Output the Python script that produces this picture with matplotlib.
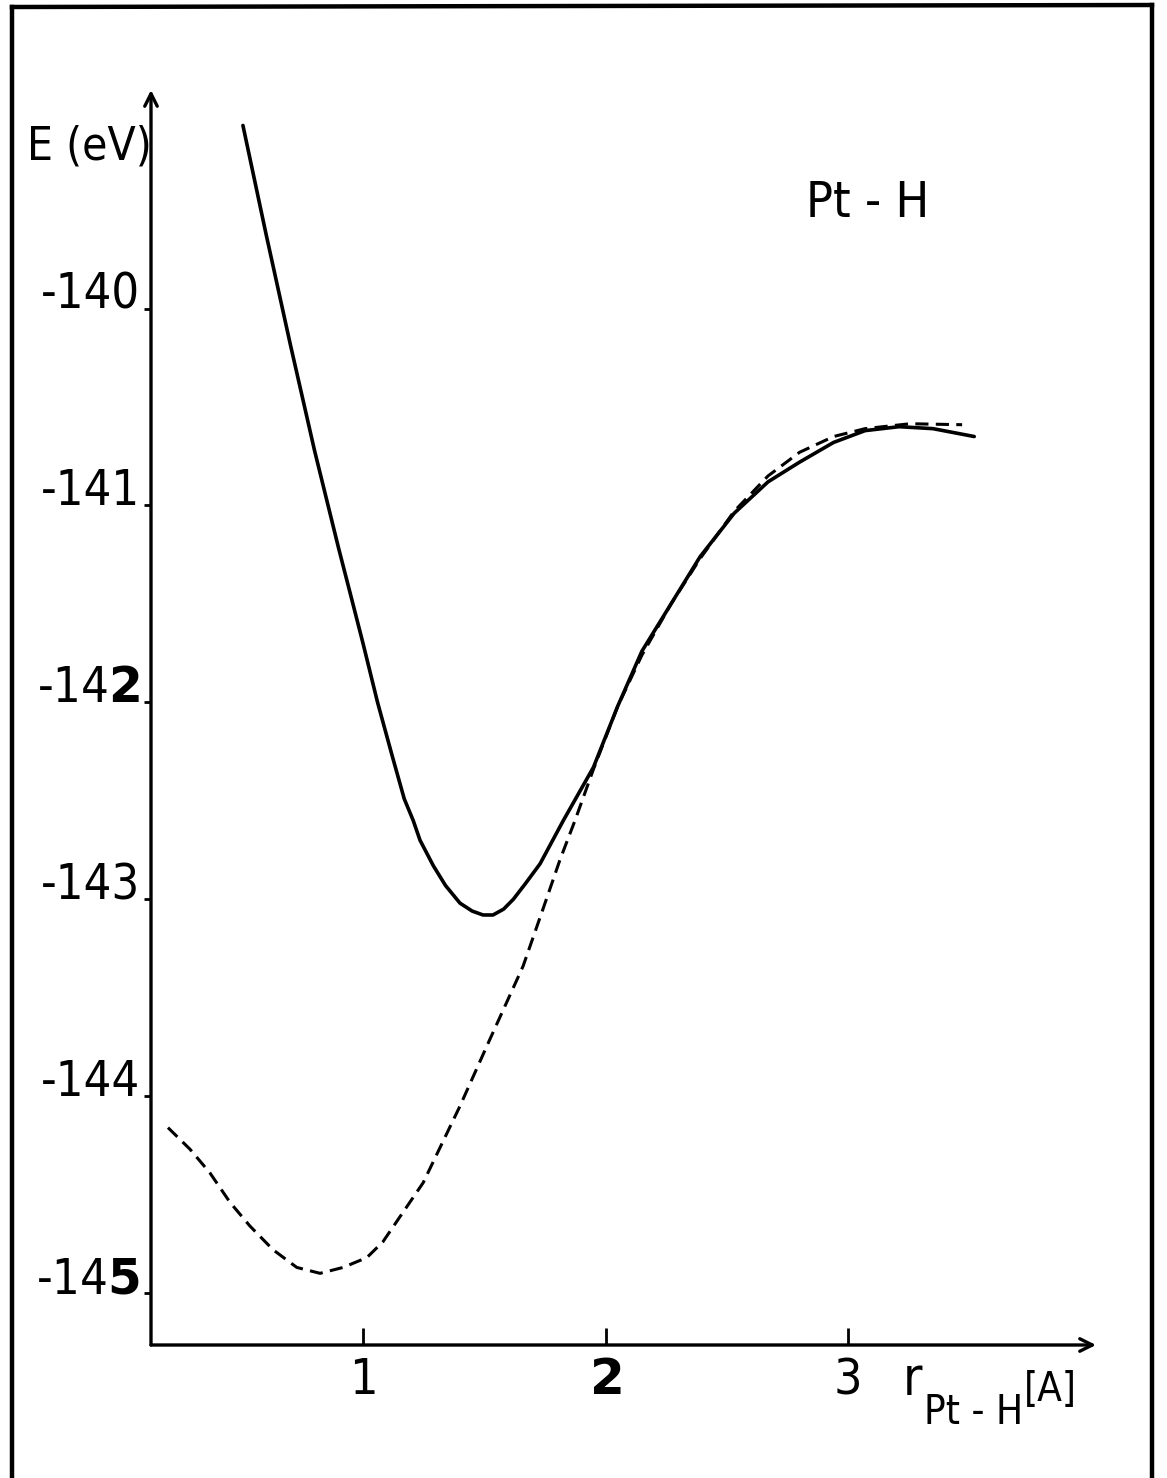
import matplotlib
matplotlib.use("Agg")
import matplotlib.pyplot as plt
from matplotlib import font_manager as fm
from matplotlib.lines import Line2D

# solid curve
solid_r = [0.505, 0.60, 0.70, 0.80, 0.90, 0.946, 1.0, 1.06, 1.12, 1.17, 1.207,
           1.235, 1.29, 1.34, 1.40, 1.45, 1.495, 1.536, 1.58, 1.62, 1.67, 1.73,
           1.826, 1.95, 2.05, 2.15, 2.27, 2.39, 2.53, 2.67, 2.80, 2.94, 3.07,
           3.21, 3.35, 3.52]
solid_E = [-139.07, -139.62, -140.18, -140.72, -141.22, -141.44, -141.70,
           -142.0, -142.27, -142.49, -142.60, -142.70, -142.83, -142.93,
           -143.02, -143.06, -143.08, -143.08, -143.05, -143.00, -142.92,
           -142.82, -142.60, -142.33, -142.02, -141.74, -141.50, -141.26,
           -141.04, -140.88, -140.78, -140.68, -140.62, -140.60, -140.61,
           -140.65]

# dashed curve
dashed_r = [0.196, 0.287, 0.369, 0.452, 0.534, 0.629, 0.727, 0.823, 0.918,
            1.016, 1.082, 1.165, 1.248, 1.40, 1.52, 1.66, 1.742, 1.812, 1.874,
            1.95, 2.05, 2.15, 2.27, 2.39, 2.53, 2.67, 2.80, 2.94, 3.07, 3.255,
            3.47]
dashed_E = [-144.16, -144.27, -144.39, -144.54, -144.66, -144.78, -144.87,
            -144.90, -144.87, -144.82, -144.74, -144.59, -144.44, -144.05,
            -143.72, -143.34, -143.05, -142.80, -142.60, -142.34, -142.02,
            -141.76, -141.50, -141.27, -141.03, -140.85, -140.73, -140.65,
            -140.61, -140.585, -140.59]

x_ticks = [1, 2, 3]
x_labels = ["1", r"$\mathbf{2}$", "3"]
y_ticks = [-140, -141, -142, -143, -144, -145]
y_labels = ["-140", "-141", r"-14$\mathbf{2}$", "-143", "-144",
            r"-14$\mathbf{5}$"]

# pick a narrow font if one is installed
narrow = [f for f in fm.fontManager.ttflist
          if ("Condensed" in f.fname or "Narrow" in f.fname)
          and "Bold" not in f.fname and "Oblique" not in f.fname
          and "Italic" not in f.fname]
if narrow:
    fam = narrow[0].name
    FP = dict(fontproperties=fm.FontProperties(fname=narrow[0].fname))
    plt.rcParams["mathtext.fontset"] = "custom"
    plt.rcParams["mathtext.rm"] = fam + ":stretch=condensed"
    plt.rcParams["mathtext.bf"] = fam + ":bold:stretch=condensed"
    SCALE = 1.0
else:
    FP = dict(family="Liberation Sans")
    plt.rcParams["mathtext.fontset"] = "custom"
    plt.rcParams["mathtext.rm"] = "Liberation Sans"
    plt.rcParams["mathtext.bf"] = "Liberation Sans:bold"
    SCALE = 0.85

W, H = 1167, 1478
fig = plt.figure(figsize=(W / 100, H / 100), dpi=100)
fig.patch.set_facecolor("white")

# axes box: origin at (151, 1345) px, x-arrow end 1096 px, y-arrow top 90 px
ax = fig.add_axes([151 / W, 1 - 1345 / H, (1096 - 151) / W, (1345 - 90) / H])
ax.set_xlim(0.126, 4.022)
ax.set_ylim(-145.264, -138.89)
ax.patch.set_alpha(0)
for s in ax.spines.values():
    s.set_visible(False)

arrow = dict(arrowstyle="->,head_length=0.9,head_width=0.45", lw=2.4,
             color="black", shrinkA=0, shrinkB=0)
ax.annotate("", xy=(1, 0), xytext=(0, 0), xycoords="axes fraction",
            arrowprops=arrow)
ax.annotate("", xy=(0, 1), xytext=(0, 0), xycoords="axes fraction",
            arrowprops=arrow)

ax.plot(solid_r, solid_E, color="black", lw=2.6, solid_capstyle="round",
        solid_joinstyle="round")
ax.plot(dashed_r, dashed_E, color="black", lw=2.2, dashes=(4.3, 2.4))

ax.set_xticks(x_ticks)
ax.set_xticklabels(x_labels)
ax.set_yticks(y_ticks)
ax.set_yticklabels(y_labels)
ax.tick_params(axis="x", direction="in", length=12, width=2, pad=8)
ax.tick_params(axis="y", direction="out", length=5, width=2, pad=3)
for lbl in ax.get_xticklabels():
    lbl.update(FP)
    lbl.set_fontsize(36 * SCALE)
for lbl in ax.get_yticklabels():
    lbl.update(FP)
    lbl.set_fontsize(35 * SCALE)
    lbl.set_va("baseline")

# labels
fig.text(152 / W, 1 - 147 / H, "E (eV)", ha="right", va="center",
         fontsize=33 * SCALE, **FP)
fig.text(868 / W, 1 - 203 / H, "Pt - H", ha="center", va="center",
         fontsize=36 * SCALE, **FP)
fig.text(903 / W, 1 - 1395 / H, "r", ha="left", va="baseline",
         fontsize=38 * SCALE, **FP)
fig.text(924 / W, 1 - 1424 / H, "Pt - H", ha="left", va="baseline",
         fontsize=29 * SCALE, **FP)
fig.text(1024 / W, 1 - 1401 / H, "[A]", ha="left", va="baseline",
         fontsize=29 * SCALE, **FP)

# outer frame (left, top, right)
for xs, ys in [([12, 12], [1478, 7]), ([12, 1152], [7, 5]),
               ([1152, 1152], [5, 1478])]:
    fig.add_artist(Line2D([x / W for x in xs], [1 - y / H for y in ys],
                          color="black", lw=3.2))

fig.savefig("out.png", dpi=100)
